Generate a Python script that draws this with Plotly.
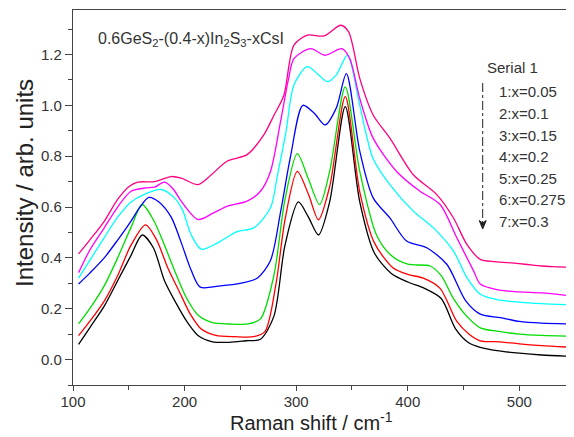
import plotly.graph_objects as go

# ---------------- data ----------------
x1 = [105,115,128,140,152,162,172,182,192,202,212,225,240,255,268,280,290,302,311,320,330,344,357,370,385,400,415,430,443,455,465,480,500,520,548]
y1 = [0.06,0.125,0.21,0.31,0.41,0.49,0.44,0.31,0.225,0.15,0.095,0.07,0.068,0.074,0.08,0.17,0.45,0.62,0.56,0.49,0.62,0.995,0.62,0.42,0.34,0.305,0.28,0.24,0.12,0.065,0.048,0.035,0.025,0.018,0.013]

x2 = [105,115,128,140,152,165,175,185,195,205,215,228,245,262,272,282,290,301,311,320,330,344,357,370,387,400,414,429,444,455,465,483,500,520,548]
y2 = [0.094,0.15,0.23,0.33,0.45,0.53,0.47,0.36,0.27,0.18,0.12,0.095,0.09,0.09,0.11,0.3,0.55,0.74,0.65,0.55,0.68,1.034,0.66,0.46,0.36,0.335,0.32,0.28,0.15,0.1,0.074,0.07,0.062,0.055,0.048]

x3 = [105,115,128,140,152,162,172,182,192,202,212,225,240,257,268,280,290,301,311,321,330,344,357,372,385,400,420,430,441,453,465,483,500,520,548]
y3 = [0.14,0.2,0.29,0.4,0.52,0.61,0.55,0.45,0.34,0.24,0.175,0.145,0.14,0.14,0.16,0.33,0.63,0.81,0.71,0.61,0.74,1.073,0.74,0.49,0.41,0.375,0.368,0.33,0.24,0.17,0.125,0.11,0.1,0.095,0.092]

x4 = [105,115,128,140,152,160,168,177,188,197,206,214,232,250,265,277,286,295,306,316,326,336,345,357,369,384,399,417,435,452,465,483,500,520,548]
y4 = [0.297,0.34,0.40,0.47,0.545,0.6,0.638,0.62,0.56,0.46,0.35,0.285,0.29,0.3,0.32,0.39,0.58,0.8,1.0,0.97,0.923,0.99,1.125,0.82,0.636,0.557,0.466,0.44,0.375,0.231,0.179,0.165,0.15,0.143,0.14]

x5 = [105,115,128,140,152,164,179,190,198,206,215,230,247,262,277,283,291,298,310,320,328,336,346,357,369,384,405,423,441,453,465,480,500,520,548]
y5 = [0.32,0.39,0.48,0.56,0.62,0.65,0.669,0.64,0.59,0.49,0.434,0.46,0.503,0.518,0.597,0.72,0.9,1.08,1.152,1.12,1.093,1.12,1.197,1.0,0.79,0.688,0.584,0.518,0.427,0.322,0.257,0.236,0.226,0.22,0.215]

x6 = [105,115,128,140,152,165,173,182,190,197,212,226,238,256,268,277,286,293,298,313,326,341,348,357,369,390,411,429,444,459,465,480,500,520,548]
y6 = [0.342,0.43,0.518,0.6,0.662,0.675,0.678,0.698,0.67,0.623,0.551,0.577,0.603,0.623,0.662,0.74,0.936,1.1,1.184,1.223,1.197,1.223,1.184,1.027,0.871,0.74,0.662,0.61,0.479,0.349,0.297,0.275,0.266,0.262,0.25]

x7 = [105,115,128,140,150,158,173,188,197,212,224,238,256,271,280,289,298,310,325,340,347,357,369,384,405,426,441,453,465,478,490,505,520,535,548]
y7 = [0.416,0.47,0.544,0.63,0.68,0.698,0.70,0.72,0.714,0.688,0.727,0.78,0.806,0.884,0.96,1.04,1.237,1.276,1.273,1.315,1.289,1.106,0.962,0.871,0.727,0.649,0.557,0.453,0.394,0.385,0.381,0.375,0.368,0.365,0.362]

series_x = [x1, x2, x3, x4, x5, x6, x7]
series_y = [y1, y2, y3, y4, y5, y6, y7]
series_names = ["1:x=0.05", "2:x=0.1", "3:x=0.15", "4:x=0.2", "5:x=0.25", "6:x=0.275", "7:x=0.3"]
series_colors = ["#000000", "#FF0000", "#00DD00", "#0000FF", "#00FFFF", "#FF00FF", "#FF0080"]

legend_title = "Serial 1"
chart_label = "0.6GeS<sub>2</sub>-(0.4-x)In<sub>2</sub>S<sub>3</sub>-xCsI"
x_title = "Raman shift / cm<sup>-1</sup>"
y_title = "Intensity / arb. units"

# ---------------- layout geometry ----------------
# the page body has an 8px margin, so the figure is drawn 8px in from the window edge
OFF = 8
WIN_W, WIN_H = 574, 437
W, H = WIN_W - OFF, WIN_H - OFF
L, R, T, B = 73 - OFF, 0, 10 - OFF, 52
pw, ph = W - L - R, H - T - B


def px(x):
    """window pixel x -> paper coordinate"""
    return (x - OFF - L) / pw


def py(y):
    """window pixel y -> paper coordinate"""
    return (H - B - (y - OFF)) / ph


FONT = "Arial, Liberation Sans, sans-serif"
TXT = "#333333"
AX = "#444444"

fig = go.Figure()
for xs, ys, nm, col in zip(series_x, series_y, series_names, series_colors):
    fig.add_trace(go.Scatter(x=xs, y=ys, name=nm, mode="lines",
                             line=dict(color=col, width=1.3, shape="spline", smoothing=0.8),
                             showlegend=False))

annotations = [
    dict(x=px(96), y=py(39), xref="paper", yref="paper", text=chart_label,
         showarrow=False, xanchor="left", yanchor="middle",
         font=dict(family=FONT, size=16, color=TXT)),
    dict(x=px(485), y=py(67), xref="paper", yref="paper", text=legend_title,
         showarrow=False, xanchor="left", yanchor="middle",
         font=dict(family=FONT, size=15, color=TXT)),
    dict(x=px(311), y=py(421), xref="paper", yref="paper", text=x_title,
         showarrow=False, xanchor="center", yanchor="middle",
         font=dict(family=FONT, size=20, color="#222222")),
    dict(x=px(24), y=py(183), xref="paper", yref="paper", text=y_title,
         showarrow=False, xanchor="center", yanchor="middle", textangle=-90,
         font=dict(family=FONT, size=24, color="#222222")),
]
item_y = [91.7, 113.5, 135, 156.5, 178.3, 200, 221.7]
for nm, yy in zip(series_names, item_y):
    annotations.append(dict(x=px(496.5), y=py(yy), xref="paper", yref="paper", text=nm,
                            showarrow=False, xanchor="left", yanchor="middle",
                            font=dict(family=FONT, size=15, color=TXT)))

ax_x = 482.7
shapes = [
    dict(type="line", xref="paper", yref="paper", x0=px(ax_x), x1=px(ax_x),
         y0=py(83), y1=py(223), line=dict(color="#222222", width=1, dash="dashdot")),
    dict(type="path", xref="paper", yref="paper",
         path="M {a},{b} L {c},{d} L {e},{f} L {g},{h} Z".format(
             a=px(ax_x - 3.5), b=py(220.5), c=px(ax_x), d=py(229),
             e=px(ax_x + 3.5), f=py(220.5), g=px(ax_x), h=py(223)),
         fillcolor="#222222", line=dict(color="#222222", width=1)),
]

fig.update_layout(
    width=W, height=H,
    margin=dict(l=L, r=R, t=T, b=B, pad=0),
    paper_bgcolor="white", plot_bgcolor="white",
    font=dict(family=FONT, color=TXT),
    annotations=annotations, shapes=shapes,
    xaxis=dict(range=[100, 549], tickmode="linear", tick0=100, dtick=100,
               ticks="outside", ticklen=5, tickwidth=1.2, tickcolor=AX,
               ticklabelstandoff=-2,
               showline=True, linecolor=AX, linewidth=1.3, mirror=True,
               showgrid=False, zeroline=False,
               tickfont=dict(family=FONT, size=15, color=TXT),
               minor=dict(dtick=50, tick0=100, ticks="outside", ticklen=4, tickcolor=AX, tickwidth=1.2)),
    yaxis=dict(range=[-0.1, 1.375], tickmode="linear", tick0=0, dtick=0.2,
               tickformat=".1f",
               ticks="outside", ticklen=7, tickwidth=1.2, tickcolor=AX,
               showline=True, linecolor=AX, linewidth=1.3,
               showgrid=False, zeroline=False,
               tickfont=dict(family=FONT, size=15, color=TXT),
               minor=dict(dtick=0.1, tick0=0, ticks="outside", ticklen=4, tickcolor=AX, tickwidth=1.2)),
)

fig.write_html("out.html")
